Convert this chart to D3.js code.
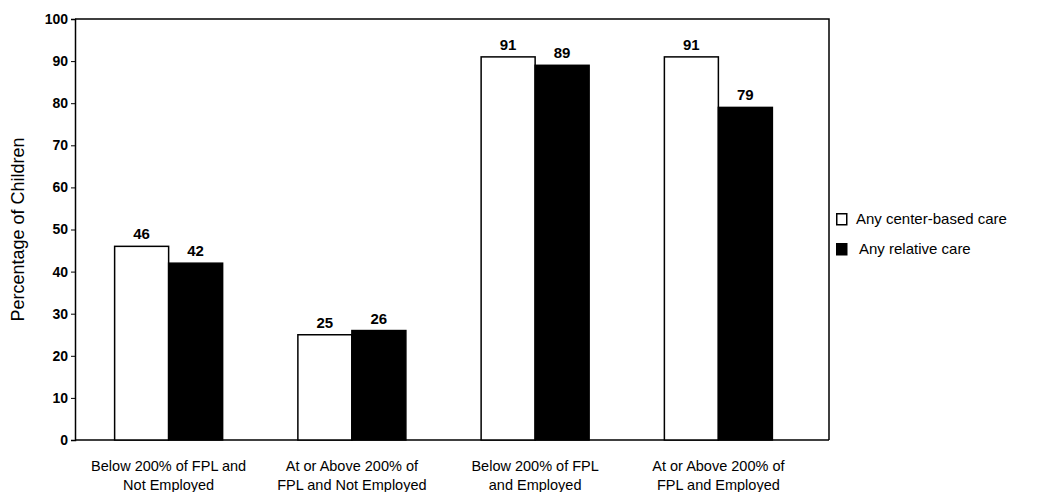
<!DOCTYPE html>
<html>
<head>
<meta charset="utf-8">
<script src="https://cdn.jsdelivr.net/npm/d3@7"></script>
<style>
  body { margin: 0; background: #fff; }
  svg { font-family: "Liberation Sans", Arial, Helvetica, sans-serif; }
</style>
</head>
<body>
<div id="chart"></div>
<script>
// Child care use by income / employment - grouped bars
const groups = ["g1", "g2", "g3", "g4"];
const groupLabels = [
    ["Below 200% of FPL and", "Not Employed"],
    ["At or Above 200% of", "FPL and Not Employed"],
    ["Below 200% of FPL", "and Employed"],
    ["At or Above 200% of", "FPL and Employed"]
];
const seriesNames = ["Any center-based care", "Any relative care"];
const centerBased = [46, 25, 91, 91];
const relative = [42, 26, 89, 79];
const yTicks = [0, 10, 20, 30, 40, 50, 60, 70, 80, 90, 100];

const width = 1045;
const height = 492;
const plot = { left: 75, right: 829, top: 19, bottom: 440 };

const svg = d3.select("#chart").append("svg")
    .attr("width", width)
    .attr("height", height);

const x = d3.scaleBand()
    .domain(groups)
    .range([77, 810])
    .padding(0);

const sub = d3.scaleBand()
    .domain([0, 1])
    .range([-54, 54]);

const y = d3.scaleLinear()
    .domain([0, 100])
    .range([plot.bottom, plot.top]);

const colors = ["#ffffff", "#000000"];

// frame (top + right)
svg.append("path")
    .attr("d", `M${plot.left},${plot.top}H${plot.right}V${plot.bottom}`)
    .attr("fill", "none")
    .attr("stroke", "#000")
    .attr("stroke-width", 1.5);

// baseline
svg.append("line")
    .attr("x1", plot.left).attr("x2", plot.right)
    .attr("y1", y(0)).attr("y2", y(0))
    .attr("stroke", "#000")
    .attr("stroke-width", 1.5);

// y axis
const yAxis = svg.append("g")
    .attr("transform", `translate(${plot.left},0)`)
    .call(d3.axisLeft(y).tickValues(yTicks).tickSize(4).tickPadding(3));
yAxis.select(".domain").attr("stroke-width", 1.5);
yAxis.selectAll("text")
    .style("font-size", "14px")
    .style("font-weight", "bold")
    .attr("fill", "#000");

svg.append("text")
    .attr("transform", `translate(24,${(plot.top + plot.bottom) / 2}) rotate(-90)`)
    .attr("text-anchor", "middle")
    .style("font-size", "18px")
    .text("Percentage of Children");

// bars
const rows = groups.map((g, i) => ({ g, vals: [centerBased[i], relative[i]] }));

const gGroups = svg.selectAll("g.grp")
    .data(rows)
    .enter()
    .append("g")
    .attr("class", "grp")
    .attr("transform", d => `translate(${x(d.g) + x.bandwidth() / 2},0)`);

gGroups.selectAll("rect")
    .data(d => d.vals)
    .enter()
    .append("rect")
    .attr("x", (d, j) => sub(j))
    .attr("y", d => y(d))
    .attr("width", sub.bandwidth())
    .attr("height", d => y(0) - y(d))
    .attr("fill", (d, j) => colors[j])
    .attr("stroke", "#000")
    .attr("stroke-width", 1.5);

gGroups.selectAll("text.val")
    .data(d => d.vals)
    .enter()
    .append("text")
    .attr("class", "val")
    .attr("x", (d, j) => sub(j) + sub.bandwidth() / 2)
    .attr("y", d => y(d) - 7)
    .attr("text-anchor", "middle")
    .style("font-size", "15px")
    .style("font-weight", "bold")
    .text(d => d);

// category labels
const catText = svg.selectAll("text.cat")
    .data(groupLabels)
    .enter()
    .append("text")
    .attr("class", "cat")
    .attr("text-anchor", "middle")
    .attr("transform", (d, i) => `translate(${x(groups[i]) + x.bandwidth() / 2},0)`)
    .style("font-family", "'Liberation Sans Narrow', 'Liberation Sans', Arial, sans-serif")
    .style("font-size", "14.5px");

catText.selectAll("tspan")
    .data(d => d)
    .enter()
    .append("tspan")
    .attr("x", 0)
    .attr("y", (d, k) => 471 + k * 19)
    .text(d => d);

// legend
const legend = svg.append("g")
    .attr("transform", "translate(836,213)");

const items = legend.selectAll("g")
    .data(seriesNames)
    .enter()
    .append("g")
    .attr("transform", (d, i) => `translate(0,${i * 30})`);

items.append("rect")
    .attr("x", 0.75).attr("y", 0.75)
    .attr("width", 10).attr("height", 11)
    .attr("fill", (d, i) => colors[i])
    .attr("stroke", "#000")
    .attr("stroke-width", 1.5);

items.append("text")
    .attr("x", (d, i) => i === 0 ? 20 : 23)
    .attr("y", 11)
    .style("font-size", "15px")
    .text(d => d);
</script>
</body>
</html>
